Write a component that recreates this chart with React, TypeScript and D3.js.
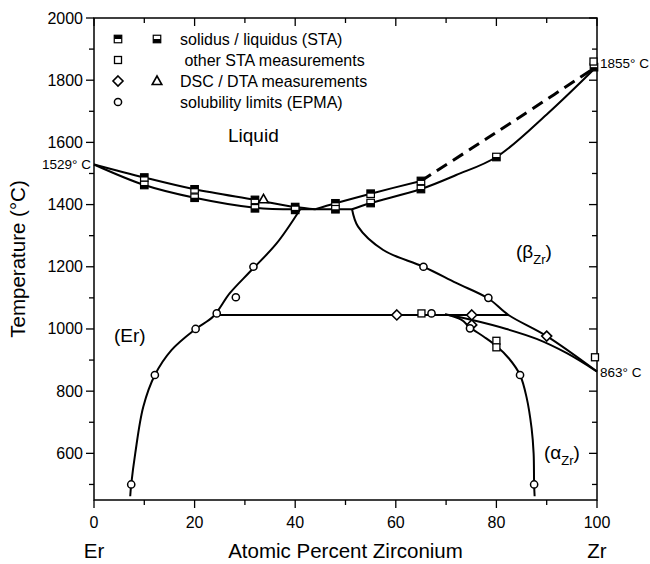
import React from "react";
import * as d3 from "d3";

type P = [number, number];

// ---- phase boundary data (at.% Zr, °C) ----
const liquidusEr: P[] = [[0, 1529], [10, 1487], [20, 1449], [32, 1415], [40, 1392], [44, 1385]];
const solidusEr: P[] = [[0, 1529], [10, 1463], [20, 1422], [32, 1390], [40, 1385]];
const eutecticLine: P[] = [[40, 1385], [51.3, 1385]];
const liquidusZr: P[] = [[44, 1385], [48, 1404], [55, 1435], [65, 1476]];
const liquidusZrDashed: P[] = [[65, 1476], [75, 1580], [85, 1685], [100, 1845]];
const solidusZr: P[] = [[51.3, 1385], [55, 1405], [65, 1450], [72, 1495], [80, 1553], [90, 1690], [100, 1845]];
const solvusEr: P[] = [[41, 1385], [36.3, 1275], [31, 1184], [27, 1115], [23.7, 1040], [20.2, 1000], [15.4, 932], [12.1, 852], [9.8, 750], [8.2, 600], [7.4, 500], [7.2, 462]];
const eutectoidLine: P[] = [[24.4, 1045], [82.4, 1045]];
const solvusBeta: P[] = [[51.3, 1385], [52.5, 1329], [57.5, 1254], [65.5, 1200], [72, 1148], [78.4, 1098], [82.4, 1045], [90, 977], [100, 863]];
const alphaBetaLine: P[] = [[69.8, 1047], [75.4, 1028], [82, 1000], [88, 968], [94, 922], [100, 863]];
const solvusAlpha: P[] = [[69.8, 1047], [73, 1030], [74.75, 1005], [77.5, 975], [80, 945], [82.5, 905], [84.7, 852], [86, 780], [87, 680], [87.4, 600], [87.5, 500], [87.6, 462]];

// ---- measured points ----
const liquidusSTA: P[] = [[10, 1487], [20, 1449], [32, 1415], [40, 1392], [48, 1404], [55, 1435], [65, 1476]];
const solidusSTA: P[] = [[10, 1463], [20, 1422], [32, 1388], [40, 1383], [48, 1385], [55, 1405], [65, 1450], [80, 1553], [99.4, 1842]];
const otherSTA: P[] = [[65.1, 1050], [80, 962], [80, 941], [99.6, 909], [99.3, 1860]];
const dscPoints: P[] = [[60.2, 1045], [75.1, 1045], [75.1, 1013], [90, 977]];
const dtaPoints: P[] = [[33.7, 1417]];
const epmaPoints: P[] = [[7.4, 500], [12.1, 852], [20.2, 1000], [24.4, 1050], [28.2, 1102], [31.7, 1200], [65.5, 1200], [67.1, 1050], [74.75, 1002], [78.4, 1100], [84.7, 852], [87.5, 500]];

// ---- axes ----
const xMajor = [0, 20, 40, 60, 80, 100];
const xMinor = [10, 30, 50, 70, 90];
const yMajor = [600, 800, 1000, 1200, 1400, 1600, 1800, 2000];
const yMinor = [500, 700, 900, 1100, 1300, 1500, 1700, 1900];

const legendItems = [
  "solidus / liquidus (STA)",
  " other STA measurements",
  "DSC / DTA measurements",
  "solubility limits (EPMA)",
];

const FONT = "'Liberation Sans', Arial, Helvetica, sans-serif";

export default function App() {
  const W = 650, H = 564;
  const x = d3.scaleLinear().domain([0, 100]).range([94, 597]);
  const y = d3.scaleLinear().domain([450, 2000]).range([500, 18]);
  const curve = d3.line<P>().x(d => x(d[0])).y(d => y(d[1])).curve(d3.curveCatmullRom.alpha(0.5));
  const straight = d3.line<P>().x(d => x(d[0])).y(d => y(d[1]));

  const S = 7.5;
  const halfSq = (cx: number, cy: number, top: boolean, key: string) => (
    <g key={key}>
      <rect x={cx - S / 2} y={cy - S / 2} width={S} height={S} fill="white" stroke="black" strokeWidth={1.2} />
      <rect x={cx - S / 2} y={top ? cy - S / 2 : cy} width={S} height={S / 2} fill="black" />
    </g>
  );
  const openSq = (cx: number, cy: number, key: string) => (
    <rect key={key} x={cx - 3.5} y={cy - 3.5} width={7} height={7} fill="white" stroke="black" strokeWidth={1.3} />
  );
  const diamond = (cx: number, cy: number, key: string) => (
    <path key={key} d={`M${cx},${cy - 5}L${cx + 5},${cy}L${cx},${cy + 5}L${cx - 5},${cy}Z`} fill="white" stroke="black" strokeWidth={1.6} />
  );
  const triangle = (cx: number, cy: number, key: string) => (
    <path key={key} d={`M${cx},${cy - 5}L${cx + 4.8},${cy + 3.5}L${cx - 4.8},${cy + 3.5}Z`} fill="white" stroke="black" strokeWidth={1.6} />
  );
  const circ = (cx: number, cy: number, key: string) => (
    <circle key={key} cx={cx} cy={cy} r={3.6} fill="white" stroke="black" strokeWidth={1.5} />
  );

  const lineStyle = { fill: "none", stroke: "black", strokeWidth: 2 };
  const legendY = [39, 60, 81, 102];

  return (
    <svg width={W} height={H} style={{ position: "absolute", left: 0, top: 0, background: "white" }} fontFamily={FONT}>
      <rect x={0} y={0} width={W} height={H} fill="white" />
      {/* frame */}
      <rect x={x(0)} y={y(2000)} width={x(100) - x(0)} height={y(450) - y(2000)} fill="none" stroke="black" strokeWidth={1.5} />
      {/* bottom ticks (outward) + top ticks (inward) */}
      {xMajor.map(v => (
        <g key={"xM" + v}>
          <line x1={x(v)} x2={x(v)} y1={y(450)} y2={y(450) + 8} stroke="black" strokeWidth={1.3} />
          <line x1={x(v)} x2={x(v)} y1={y(2000)} y2={y(2000) + 8} stroke="black" strokeWidth={1.3} />
          <text x={x(v)} y={528} textAnchor="middle" fontSize={16}>{v}</text>
        </g>
      ))}
      {xMinor.map(v => (
        <g key={"xm" + v}>
          <line x1={x(v)} x2={x(v)} y1={y(450)} y2={y(450) + 5} stroke="black" strokeWidth={1.3} />
          <line x1={x(v)} x2={x(v)} y1={y(2000)} y2={y(2000) + 5} stroke="black" strokeWidth={1.3} />
        </g>
      ))}
      {/* left ticks (outward) + right ticks (inward) */}
      {yMajor.map(v => (
        <g key={"yM" + v}>
          <line x1={x(0) - 8} x2={x(0)} y1={y(v)} y2={y(v)} stroke="black" strokeWidth={1.3} />
          <line x1={x(100) - 8} x2={x(100)} y1={y(v)} y2={y(v)} stroke="black" strokeWidth={1.3} />
          <text x={x(0) - 11} y={y(v) + 5.5} textAnchor="end" fontSize={16}>{v}</text>
        </g>
      ))}
      {yMinor.map(v => (
        <g key={"ym" + v}>
          <line x1={x(0) - 5} x2={x(0)} y1={y(v)} y2={y(v)} stroke="black" strokeWidth={1.3} />
          <line x1={x(100) - 5} x2={x(100)} y1={y(v)} y2={y(v)} stroke="black" strokeWidth={1.3} />
        </g>
      ))}

      {/* axis titles */}
      <text x={(x(0) + x(100)) / 2} y={558} textAnchor="middle" fontSize={20.5}>Atomic Percent Zirconium</text>
      <text x={x(0)} y={558} textAnchor="middle" fontSize={20.5}>Er</text>
      <text x={x(100)} y={558} textAnchor="middle" fontSize={20.5}>Zr</text>
      <text transform={`translate(25,${y(1225)}) rotate(-90)`} textAnchor="middle" fontSize={20.5}>Temperature (°C)</text>

      {/* phase boundaries */}
      <path d={curve(liquidusEr) || ""} {...lineStyle} />
      <path d={curve(solidusEr) || ""} {...lineStyle} />
      <path d={straight(eutecticLine) || ""} {...lineStyle} />
      <path d={curve(liquidusZr) || ""} {...lineStyle} />
      <path d={curve(liquidusZrDashed) || ""} fill="none" stroke="black" strokeWidth={3} strokeDasharray="12 7" />
      <path d={curve(solidusZr) || ""} {...lineStyle} />
      <path d={curve(solvusEr) || ""} {...lineStyle} />
      <path d={straight(eutectoidLine) || ""} {...lineStyle} />
      <path d={curve(solvusBeta) || ""} {...lineStyle} />
      <path d={curve(alphaBetaLine) || ""} {...lineStyle} />
      <path d={curve(solvusAlpha) || ""} {...lineStyle} />

      {/* markers */}
      {liquidusSTA.map((d, i) => halfSq(x(d[0]), y(d[1]), true, "l" + i))}
      {solidusSTA.map((d, i) => halfSq(x(d[0]), y(d[1]), false, "s" + i))}
      {otherSTA.map((d, i) => openSq(x(d[0]), y(d[1]), "o" + i))}
      {dscPoints.map((d, i) => diamond(x(d[0]), y(d[1]), "d" + i))}
      {dtaPoints.map((d, i) => triangle(x(d[0]), y(d[1]), "t" + i))}
      {epmaPoints.map((d, i) => circ(x(d[0]), y(d[1]), "e" + i))}

      {/* legend */}
      {halfSq(118, legendY[0], true, "lg1")}
      {halfSq(157, legendY[0], false, "lg2")}
      {openSq(118, legendY[1], "lg3")}
      {diamond(118, legendY[2], "lg4")}
      {triangle(157, legendY[2], "lg5")}
      {circ(118, legendY[3], "lg6")}
      {legendItems.map((t, i) => (
        <text key={"lt" + i} x={180} y={legendY[i] + 5.5} fontSize={16} style={{ whiteSpace: "pre" }}>{t}</text>
      ))}

      {/* annotations */}
      <text x={228} y={142} fontSize={19}>Liquid</text>
      <text x={114} y={342} fontSize={19}>(Er)</text>
      <text x={516} y={258} fontSize={19}>(β<tspan fontSize={13} dy={6}>Zr</tspan><tspan dy={-6}>)</tspan></text>
      <text x={544} y={459} fontSize={19}>(α<tspan fontSize={13} dy={6}>Zr</tspan><tspan dy={-6}>)</tspan></text>
      <text x={91} y={y(1529) + 5} textAnchor="end" fontSize={13.5}>1529° C</text>
      <text x={600} y={y(1855) + 5} fontSize={13.5}>1855° C</text>
      <text x={600} y={y(863) + 5} fontSize={13.5}>863° C</text>
    </svg>
  );
}
